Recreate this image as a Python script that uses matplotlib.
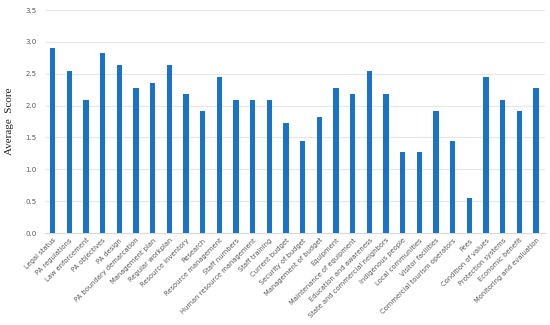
import matplotlib
matplotlib.use("Agg")
import matplotlib.pyplot as plt

categories = [
    "Legal status", "PA regulations", "Law enforcement", "PA objectives", "PA design",
    "PA boundary demarcation", "Management plan", "Regular workplan", "Resource inventory",
    "Research", "Resource management", "Staff numbers", "Human resource management",
    "Staff training", "Current budget", "Security of budget", "Management of budget",
    "Equipment", "Maintenance of equipment", "Education and awareness",
    "State and commercial neighbors", "Indigenous people", "Local communities",
    "Visitor facilities", "Commercial tourism operators", "Fees", "Condition of values",
    "Protection systems", "Economic benefit", "Monitoring and evaluation",
]
scores = [2.91, 2.55, 2.09, 2.82, 2.64, 2.27, 2.36, 2.64, 2.18, 1.91,
          2.45, 2.09, 2.09, 2.09, 1.73, 1.45, 1.82, 2.27, 2.18, 2.55,
          2.18, 1.27, 1.27, 1.91, 1.45, 0.55, 2.45, 2.09, 1.91, 2.27]
yticks = [0.0, 0.5, 1.0, 1.5, 2.0, 2.5, 3.0, 3.5]

BLUE = "#1A73C8"
TXT = "#595959"

fig = plt.figure(figsize=(5.5, 3.25), dpi=100)
ax = fig.add_axes([0.082, 0.283, 0.908, 0.686])
x = range(len(categories))
ax.bar(x, scores, width=0.32, color=BLUE, zorder=3)
ax.set_xlim(-0.45, len(categories) - 0.5)
ax.set_ylim(0, 3.5)
ax.set_yticks(yticks)
ax.set_yticklabels([f"{t:.1f}" for t in yticks], fontsize=5, color=TXT)
ax.set_xticks(list(x))
ax.set_xticklabels(categories, rotation=45, ha="right", rotation_mode="anchor",
                   fontsize=4.9, color=TXT)
ax.tick_params(axis="y", length=0, pad=6)
ax.tick_params(axis="x", length=0, pad=3)
ax.grid(axis="y", color="#E6E6E6", lw=0.8, zorder=0)
for s in ("top", "right", "left"):
    ax.spines[s].set_visible(False)
ax.spines["bottom"].set_color("#D9D9D9")
ax.set_ylabel("Average  Score", family="Liberation Serif", fontsize=8, color="#222222",
              labelpad=8)
fig.savefig("out.png")
